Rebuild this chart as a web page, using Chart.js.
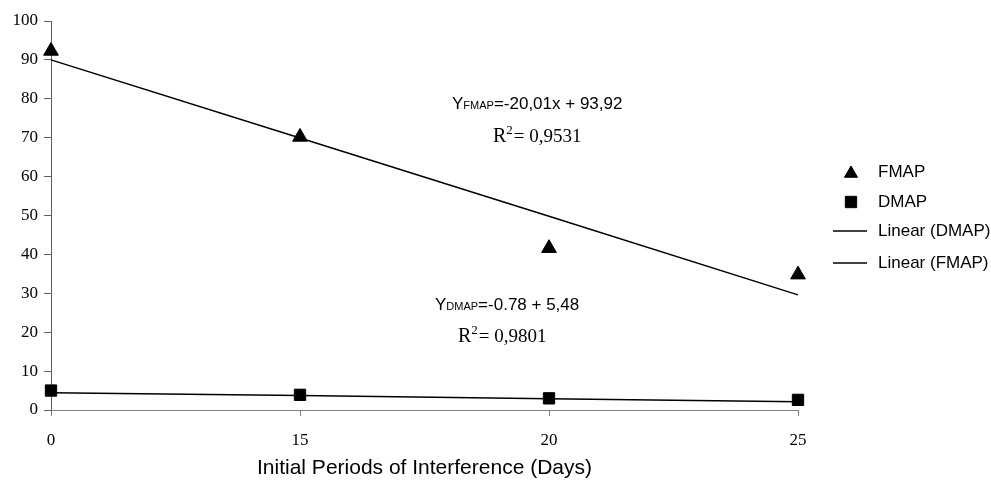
<!DOCTYPE html>
<html>
<head>
<meta charset="utf-8">
<script src="https://cdn.jsdelivr.net/npm/chart.js@4/dist/chart.umd.min.js"></script>
<style>
  body { margin: 0; background: #fff; }
  #wrap { width: 991px; height: 481px; position: relative; }
</style>
</head>
<body>
<div id="wrap"><canvas id="myChart"></canvas></div>
<script>
'use strict';

// categories (days) and values
let days = ['0', '15', '20', '25'];
let fmapValues = [92.3, 70.2, 41.6, 34.8];
let dmapValues = [5.0, 3.9, 3.0, 2.6];
// trend lines as drawn in the figure
let fmapTrend = [90.0, 69.9, 49.8, 29.6];
let dmapTrend = [4.45, 3.7, 2.9, 2.1];
let yTicks = [0, 10, 20, 30, 40, 50, 60, 70, 80, 90, 100];

let serif = '"Liberation Serif", "Times New Roman", serif';
let sans = '"Liberation Sans", Arial, sans-serif';

// legend at the right, drawn by hand to sit where the original one is
let legendPlugin = {
  id: 'sideLegend',
  afterDraw(chart) {
    let ctx = chart.ctx;
    let items = [
      { ds: 0, y: 172 },
      { ds: 1, y: 202 },
      { ds: 2, y: 231 },
      { ds: 3, y: 263 }
    ];
    ctx.save();
    ctx.font = '17px ' + sans;
    ctx.fillStyle = '#000';
    ctx.textBaseline = 'middle';
    items.forEach(it => {
      let ds = chart.data.datasets[it.ds];
      if (ds.showLine === false) {
        ctx.fillStyle = '#000';
        ctx.strokeStyle = '#000';
        ctx.lineWidth = 1;
        Chart.helpers.drawPoint(ctx, {
          pointStyle: ds.pointStyle,
          radius: ds.pointStyle === 'triangle' ? 7.5 : 8,
          borderWidth: 1
        }, 851, it.y + (ds.pointStyle === 'triangle' ? 1.5 : 0));
      } else {
        ctx.strokeStyle = '#000';
        ctx.lineWidth = 1.5;
        ctx.beginPath();
        ctx.moveTo(833, it.y);
        ctx.lineTo(867, it.y);
        ctx.stroke();
      }
      ctx.fillStyle = '#000';
      ctx.fillText(ds.label, 878, it.y);
    });
    ctx.restore();
  }
};

// regression equations and R² written inside the plot
let equationPlugin = {
  id: 'equations',
  afterDraw(chart) {
    let ctx = chart.ctx;
    ctx.save();
    ctx.fillStyle = '#000';
    ctx.textBaseline = 'alphabetic';

    let writeEq = (x, y, sub, rest) => {
      ctx.font = '17px ' + sans;
      ctx.fillText('Y', x, y);
      x += ctx.measureText('Y').width;
      ctx.font = '11px ' + sans;
      ctx.fillText(sub, x, y);
      x += ctx.measureText(sub).width;
      ctx.font = '17px ' + sans;
      ctx.fillText(rest, x, y);
    };
    let writeR2 = (x, y, value) => {
      ctx.font = '20px ' + serif;
      ctx.fillText('R', x, y);
      x += ctx.measureText('R').width;
      ctx.font = '13px ' + serif;
      ctx.fillText('2', x, y - 8);
      x += ctx.measureText('2').width + 1;
      ctx.font = '19px ' + serif;
      ctx.fillText('= ' + value, x, y);
    };

    writeEq(452, 109, 'FMAP', '=-20,01x + 93,92');
    writeR2(493, 142, '0,9531');
    writeEq(435, 310, 'DMAP', '=-0.78 + 5,48');
    writeR2(458, 342, '0,9801');
    ctx.restore();
  }
};

let chartContext = document.getElementById('myChart').getContext('2d');

let myChart = new Chart(chartContext, {
  type: 'line',
  data: {
    labels: days,
    datasets: [
      {
        label: 'FMAP',
        data: fmapValues,
        showLine: false,
        pointStyle: 'triangle',
        pointRadius: 8.5,
        pointBackgroundColor: '#000',
        pointBorderColor: '#000',
        borderColor: '#000',
        order: 0
      },
      {
        label: 'DMAP',
        data: dmapValues,
        showLine: false,
        pointStyle: 'rect',
        pointRadius: 8,
        pointBackgroundColor: '#000',
        pointBorderColor: '#000',
        borderColor: '#000',
        order: 0
      },
      {
        label: 'Linear (DMAP)',
        data: dmapTrend,
        borderColor: '#000',
        borderWidth: 1.5,
        pointRadius: 0,
        tension: 0,
        order: 1
      },
      {
        label: 'Linear (FMAP)',
        data: fmapTrend,
        borderColor: '#000',
        borderWidth: 1.5,
        pointRadius: 0,
        tension: 0,
        order: 1
      }
    ]
  },
  options: {
    responsive: true,
    maintainAspectRatio: false,
    animation: false,
    layout: {
      padding: { top: 21, right: 193, left: 0, bottom: 0 }
    },
    plugins: {
      legend: { display: false },
      tooltip: { enabled: false }
    },
    scales: {
      x: {
        offset: false,
        afterFit: s => { s.height = 71; },
        border: { color: '#808080', width: 1 },
        grid: {
          drawOnChartArea: false,
          tickLength: 6,
          color: '#808080'
        },
        ticks: {
          padding: 14,
          color: '#000',
          font: { family: serif, size: 17 },
          maxRotation: 0
        },
        title: {
          display: true,
          text: 'Initial Periods of Interference (Days)',
          color: '#000',
          font: { family: sans, size: 21 },
          padding: { top: 0, bottom: 0 }
        }
      },
      y: {
        min: 0,
        max: 100,
        afterFit: s => { s.width = 51; },
        afterBuildTicks: s => { s.ticks = yTicks.map(v => ({ value: v })); },
        border: { color: '#606060', width: 1 },
        grid: {
          drawOnChartArea: false,
          tickLength: 7,
          color: '#606060'
        },
        ticks: {
          padding: 6,
          color: '#000',
          font: { family: serif, size: 17 }
        }
      }
    }
  },
  plugins: [legendPlugin, equationPlugin]
});
</script>
</body>
</html>
